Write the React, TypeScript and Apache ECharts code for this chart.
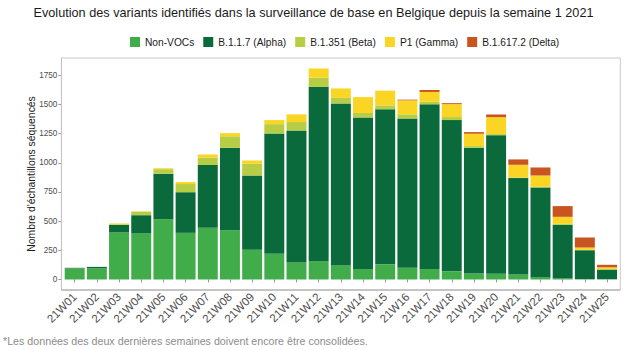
import React, { useEffect, useRef } from "react";
import * as echarts from "echarts";

const weeks = ["21W01","21W02","21W03","21W04","21W05","21W06","21W07","21W08","21W09","21W10","21W11","21W12","21W13","21W14","21W15","21W16","21W17","21W18","21W19","21W20","21W21","21W22","21W23","21W24","21W25"];
const nonVocs = [95, 97, 403, 394, 516, 400, 443, 423, 254, 220, 146, 157, 120, 91, 130, 101, 90, 70, 51, 49, 43, 20, 9, 3, 3];
const alpha = [5, 11, 63, 157, 391, 348, 538, 706, 637, 1031, 1131, 1494, 1389, 1298, 1329, 1279, 1411, 1296, 1078, 1188, 826, 769, 460, 248, 82];
const beta = [0, 0, 8, 30, 38, 70, 64, 98, 100, 80, 72, 78, 48, 38, 33, 35, 22, 26, 14, 9, 5, 5, 8, 3, 2];
const gamma = [0, 0, 6, 3, 8, 17, 26, 27, 29, 35, 66, 79, 80, 136, 126, 120, 84, 111, 106, 145, 109, 97, 60, 20, 18];
const delta = [0, 0, 0, 0, 0, 0, 0, 0, 0, 0, 0, 0, 0, 0, 0, 6, 17, 8, 14, 23, 46, 69, 92, 86, 21];
const yTicks = [0, 250, 500, 750, 1000, 1250, 1500, 1750];

const seriesDefs = [
  { name: "Non-VOCs", data: nonVocs, color: "#41ad4a" },
  { name: "B.1.1.7 (Alpha)", data: alpha, color: "#0b6a3b" },
  { name: "B.1.351 (Beta)", data: beta, color: "#b6cd44" },
  { name: "P1 (Gamma)", data: gamma, color: "#fad524" },
  { name: "B.1.617.2 (Delta)", data: delta, color: "#c9541f" },
];

const FONT = "'Liberation Sans', Arial, sans-serif";

export default function App() {
  const ref = useRef<HTMLDivElement>(null);
  useEffect(() => {
    if (!ref.current) return;
    const chart = echarts.init(ref.current, null, { renderer: "svg" });
    const gridLeft = 63.6;
    const gridRight = 8.9;
    chart.setOption({
      animation: false,
      backgroundColor: "#ffffff",
      textStyle: { fontFamily: FONT },
      title: {
        text: "Evolution des variants identifiés dans la surveillance de base en Belgique depuis la semaine 1 2021",
        left: "center",
        top: 1,
        textStyle: { fontFamily: FONT, fontSize: 12.7, fontWeight: "normal", color: "#1a1a1a" },
      },
      legend: {
        top: 32,
        left: 125,
        itemWidth: 10,
        itemHeight: 10,
        itemGap: 9,
        icon: "rect",
        textStyle: { fontFamily: FONT, fontSize: 10.2, color: "#1a1a1a" },
        data: seriesDefs.map((s) => s.name),
      },
      grid: { left: gridLeft, right: gridRight, top: 58, bottom: 60, containLabel: false },
      xAxis: {
        type: "category",
        data: weeks,
        axisLine: { show: false },
        axisTick: { show: true, alignWithLabel: true, length: 3, lineStyle: { color: "#999" } },
        axisLabel: { rotate: 45, fontSize: 11.5, color: "#4d4d4d", margin: 5, fontFamily: FONT, interval: 0 },
        splitLine: { show: false },
      },
      yAxis: {
        type: "value",
        min: -90,
        max: 1898,
        offset: 2.2,
        axisLine: { show: true, lineStyle: { color: "#a6a6a6" } },
        axisTick: { show: true, length: 3, customValues: yTicks, lineStyle: { color: "#999" } },
        axisLabel: {
          customValues: yTicks,
          fontSize: 8.2,
          color: "#4d4d4d",
          margin: 4,
          fontFamily: FONT,
          formatter: (v: number) => String(v),
        },
        splitLine: { show: false },
      },
      graphic: [
        {
          type: "rect",
          shape: { x: 61.4, y: 58, width: 558.9, height: 232 },
          style: { fill: "none", stroke: "#c8c8c8", lineWidth: 1 },
          silent: true,
          z: 10,
        },
        {
          type: "line",
          shape: { x1: 61.4, y1: 290, x2: 620.3, y2: 290 },
          style: { stroke: "#a6a6a6", lineWidth: 1 },
          silent: true,
          z: 11,
        },
        {
          type: "text",
          x: 31,
          y: 174,
          rotation: Math.PI / 2,
          style: {
            text: "Nombre d'échantillons séquencés",
            fontFamily: FONT,
            fontSize: 10.4,
            fill: "#1a1a1a",
            textAlign: "center",
            textVerticalAlign: "middle",
          },
          silent: true,
        },
        {
          type: "text",
          left: 3,
          top: 335,
          style: {
            text: "*Les données des deux dernières semaines doivent encore être consolidées.",
            fontFamily: FONT,
            fontSize: 10.7,
            fill: "#8c8c8c",
          },
          silent: true,
        },
      ],
      series: seriesDefs.map((s) => ({
        name: s.name,
        type: "bar",
        stack: "total",
        data: s.data,
        barCategoryGap: "10%",
        itemStyle: { color: s.color },
      })),
    });
    return () => chart.dispose();
  }, []);
  return <div ref={ref} style={{ position: "absolute", left: 0, top: 0, width: 627, height: 350 }} />;
}
